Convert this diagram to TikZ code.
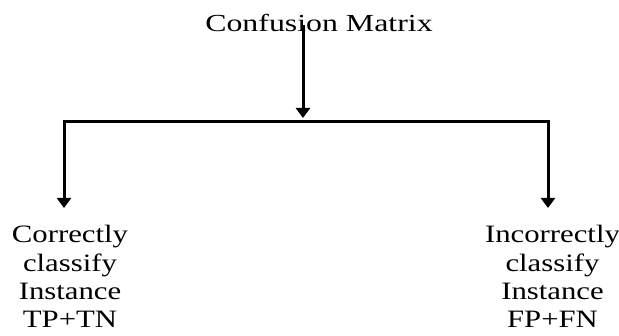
\documentclass[tikz,border=0pt]{standalone}
\usepackage{fontspec}
\setmainfont{Liberation Serif}
\usetikzlibrary{arrows.meta}
\tikzset{
  conn/.style={line width=3pt, line join=miter, black},
  tip/.style={-{Triangle[width=14pt,length=10pt]}},
  lbl/.style={inner sep=0pt, anchor=base, text=black},
}
\newcommand{\lines}[2]{\scalebox{#1}[1]{\begin{tabular}[t]{@{}c@{}}#2\end{tabular}}}
\begin{document}
\begin{tikzpicture}[x=1pt,y=-1pt]
\useasboundingbox (0,0) rectangle (619,336);
\node[lbl, font=\fontsize{24.5}{28}\selectfont] (cm) at (319,32) {\scalebox{1.3}[1]{Confusion Matrix}};
\node[lbl, font=\fontsize{25}{28.3}\selectfont] (ok) at (70,243) {\lines{1.23}{Correctly\\classify\\Instance\\TP+TN}};
\node[lbl, font=\fontsize{25}{28.3}\selectfont] (bad) at (552.5,243) {\lines{1.23}{Incorrectly\\classify\\Instance\\FP+FN}};
\coordinate (s) at (303,25);
\coordinate (j) at (303,118);
\coordinate (jl) at (64,122);
\coordinate (jr) at (548,122);
\coordinate (tl) at (64,208);
\coordinate (tr) at (548,208);
\draw[conn, tip] (s) -- (j);
\draw[conn, {Triangle[width=14pt,length=10pt]}-{Triangle[width=14pt,length=10pt]}] (tl) -- (jl) -- (jr) -- (tr);
\end{tikzpicture}
\end{document}
